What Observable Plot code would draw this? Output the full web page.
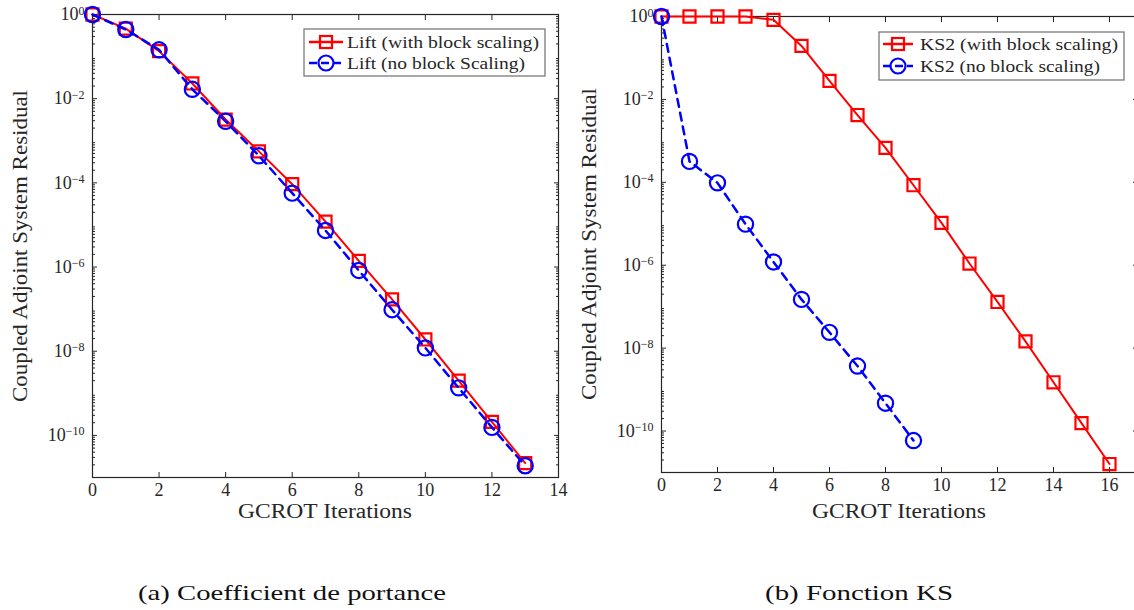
<!DOCTYPE html>
<html><head><meta charset="utf-8">
<script src="https://cdn.jsdelivr.net/npm/d3@7"></script>
<script src="https://cdn.jsdelivr.net/npm/@observablehq/plot@0.6"></script>
<style>
html,body{margin:0;padding:0;background:#fff;overflow:hidden;width:1134px;height:610px}
#root{position:relative;width:1134px;height:610px;overflow:hidden;font-family:"Liberation Serif",serif;color:#262626}
.panel{position:absolute;top:0}
#overlay{position:absolute;left:0;top:0;pointer-events:none}
#overlay text{font-family:"Liberation Serif",serif}
</style></head><body><div id="root"></div>
<script>
// ---- data ----
const liftIterations = [0,1,2,3,4,5,6,7,8,9,10,11,12,13];
const liftWithScaling = [1, 0.46, 0.135, 0.023, 0.0032, 5.6e-4, 9.3e-5, 1.2e-5, 1.4e-6, 1.7e-7, 1.9e-8, 2.0e-9, 2.1e-10, 2.2e-11];
const liftNoScaling = [1, 0.44, 0.145, 0.0167, 0.0029, 4.4e-4, 5.7e-5, 7.4e-6, 8.3e-7, 9.7e-8, 1.2e-8, 1.35e-9, 1.55e-10, 1.9e-11];

const ksIterationsWith = [0,1,2,3,4,5,6,7,8,9,10,11,12,13,14,15,16];
const ksWithScaling = [1, 1, 1, 1, 0.83, 0.195, 0.028, 0.0042, 6.8e-4, 8.5e-5, 1.05e-5, 1.1e-6, 1.3e-7, 1.45e-8, 1.5e-9, 1.55e-10, 1.6e-11];
const ksIterationsNo = [0,1,2,3,4,5,6,7,8,9];
const ksNoScaling = [1, 3.2e-4, 9.7e-5, 9.8e-6, 1.2e-6, 1.5e-7, 2.4e-8, 3.7e-9, 4.7e-10, 5.9e-11];

const liftXTicks = [0,2,4,6,8,10,12,14];
const ksXTicks = [0,2,4,6,8,10,12,14,16];
const yMajorTicks = [1, 1e-2, 1e-4, 1e-6, 1e-8, 1e-10];
const yMinorTicks = [];
for (let e = -11; e < 0; e++) for (let k = 2; k <= 9; k++) yMinorTicks.push(k * Math.pow(10, e));

const legendLift = ["Lift (with block scaling)", "Lift (no block Scaling)"];
const legendKS = ["KS2 (with block scaling)", "KS2 (no block scaling)"];
const yLabel = "Coupled Adjoint System Residual";
const xLabel = "GCROT Iterations";
const captions = ["(a) Coefficient de portance", "(b) Fonction KS"];

// ---- helpers ----
const FONT = "'Liberation Serif', serif";
const ink = "#262626";
const RED = "#ff0000", BLUE = "#0000ff";
const NS = "http://www.w3.org/2000/svg";

// tick label "10^e" -> "10" + superscript tspan
function superscripts(svg) {
  svg.querySelectorAll("text").forEach(t => {
    const s = t.textContent;
    if (!s.includes("^")) return;
    const [base, ex] = s.split("^");
    t.textContent = base;
    const sp = document.createElementNS(NS, "tspan");
    sp.setAttribute("dy", "-0.48em");
    sp.setAttribute("font-size", "12px");
    sp.textContent = ex.replace("-", "\u2212");
    t.appendChild(sp);
  });
}

function panel({left, width, height, marginLeft, marginRight, marginTop, marginBottom, xDomain, xTicks, withX, withY, noX, noY}) {
  const withData = withX.map((x, i) => ({x, y: withY[i]}));
  const noData = noX.map((x, i) => ({x, y: noY[i]}));
  const p = Plot.plot({
    width, height, marginLeft, marginRight, marginTop, marginBottom,
    x: {domain: xDomain},
    y: {type: "log", domain: [1e-11, 1]},
    style: {fontFamily: FONT, fontSize: "18px", color: ink, background: "transparent", overflow: "visible"},
    marks: [
      Plot.axisX({anchor: "bottom", ticks: xTicks, tickSize: -5, tickPadding: 11, tickFormat: d => String(d), label: null, stroke: ink, fill: ink}),
      Plot.axisX({anchor: "top", ticks: xTicks, tickSize: -5, fill: "none", label: null, stroke: ink}),
      Plot.axisY({anchor: "left", ticks: yMajorTicks, tickSize: -5, tickPadding: 13, tickFormat: d => "10^" + Math.round(Math.log10(d)), label: null, stroke: ink, fill: ink}),
      Plot.axisY({anchor: "right", ticks: yMajorTicks, tickSize: -5, fill: "none", label: null, stroke: ink}),
      Plot.axisY({anchor: "left", ticks: yMinorTicks, tickSize: -3, fill: "none", label: null, stroke: ink}),
      Plot.axisY({anchor: "right", ticks: yMinorTicks, tickSize: -3, fill: "none", label: null, stroke: ink}),
      Plot.frame({stroke: ink, strokeWidth: 1.2}),
      Plot.line(withData, {x: "x", y: "y", stroke: RED, strokeWidth: 2}),
      Plot.dot(withData, {x: "x", y: "y", symbol: "square", r: 6.8, stroke: RED, strokeWidth: 2.2, fill: "none"}),
      Plot.line(noData, {x: "x", y: "y", stroke: BLUE, strokeWidth: 2.5, strokeDasharray: "8,6"}),
      Plot.dot(noData, {x: "x", y: "y", symbol: "circle", r: 7.6, stroke: BLUE, strokeWidth: 2.2, fill: "none"})
    ]
  });
  superscripts(p);
  p.classList.add("panel");
  p.style.left = left + "px";
  p.style.position = "absolute";
  p.style.top = "0px";
  return p;
}

const root = document.getElementById("root");
root.appendChild(panel({left: 0, width: 570, height: 520, marginLeft: 92, marginRight: 12, marginTop: 14, marginBottom: 43,
  xDomain: [0, 14], xTicks: liftXTicks, withX: liftIterations, withY: liftWithScaling, noX: liftIterations, noY: liftNoScaling}));
root.appendChild(panel({left: 570, width: 572, height: 520, marginLeft: 91, marginRight: 5, marginTop: 16, marginBottom: 48,
  xDomain: [0, 17], xTicks: ksXTicks, withX: ksIterationsWith, withY: ksWithScaling, noX: ksIterationsNo, noY: ksNoScaling}));

// ---- overlay: axis titles, legends, captions ----
const ov = document.createElementNS(NS, "svg");
ov.setAttribute("id", "overlay");
ov.setAttribute("width", 1134); ov.setAttribute("height", 610);
ov.setAttribute("font-family", FONT);
root.appendChild(ov);
function el(tag, attrs, parent = ov) {
  const e = document.createElementNS(NS, tag);
  for (const k in attrs) e.setAttribute(k, attrs[k]);
  parent.appendChild(e);
  return e;
}
function txt(s, attrs, parent = ov) { const t = el("text", attrs, parent); t.textContent = s; return t; }
const fit = "spacingAndGlyphs";

// y labels
txt(yLabel, {x: 0, y: 0, transform: "translate(27,246) rotate(-90)", "text-anchor": "middle", "font-size": 20, fill: ink, textLength: 312, lengthAdjust: fit});
txt(yLabel, {x: 0, y: 0, transform: "translate(596,244) rotate(-90)", "text-anchor": "middle", "font-size": 20, fill: ink, textLength: 312, lengthAdjust: fit});
// x labels
txt(xLabel, {x: 325, y: 518, "text-anchor": "middle", "font-size": 20, fill: ink, textLength: 174, lengthAdjust: fit});
txt(xLabel, {x: 899, y: 518, "text-anchor": "middle", "font-size": 20, fill: ink, textLength: 174, lengthAdjust: fit});
// captions
txt(captions[0], {x: 292, y: 600, "text-anchor": "middle", "font-size": 22, fill: "#111", textLength: 308, lengthAdjust: fit});
txt(captions[1], {x: 859, y: 600, "text-anchor": "middle", "font-size": 22, fill: "#111", textLength: 188, lengthAdjust: fit});

function legend({x0, x1, y0, y1, rows, labels, lens, sx0, sx1, tx}) {
  el("rect", {x: x0, y: y0, width: x1 - x0, height: y1 - y0, fill: "#fff", stroke: "#7a7a7a", "stroke-width": 1.3});
  const mx = (sx0 + sx1) / 2;
  el("line", {x1: sx0, x2: sx1, y1: rows[0], y2: rows[0], stroke: RED, "stroke-width": 2.5});
  el("rect", {x: mx - 6, y: rows[0] - 6, width: 12, height: 12, fill: "none", stroke: RED, "stroke-width": 2.2});
  el("line", {x1: sx0, x2: sx1, y1: rows[1], y2: rows[1], stroke: BLUE, "stroke-width": 2.5, "stroke-dasharray": "8,4"});
  el("circle", {cx: mx, cy: rows[1], r: 7.5, fill: "none", stroke: BLUE, "stroke-width": 2.2});
  labels.forEach((s, i) => txt(s, {x: tx, y: rows[i] + 6, "font-size": 17, fill: ink, textLength: lens[i], lengthAdjust: fit}));
}
legend({x0: 304, x1: 545, y0: 29, y1: 76, rows: [42, 63], labels: legendLift, lens: [192, 178], sx0: 309, sx1: 343, tx: 347});
legend({x0: 879, x1: 1124, y0: 32, y1: 80, rows: [44, 66], labels: legendKS, lens: [198, 180], sx0: 883, sx1: 913, tx: 920});
</script></body></html>
